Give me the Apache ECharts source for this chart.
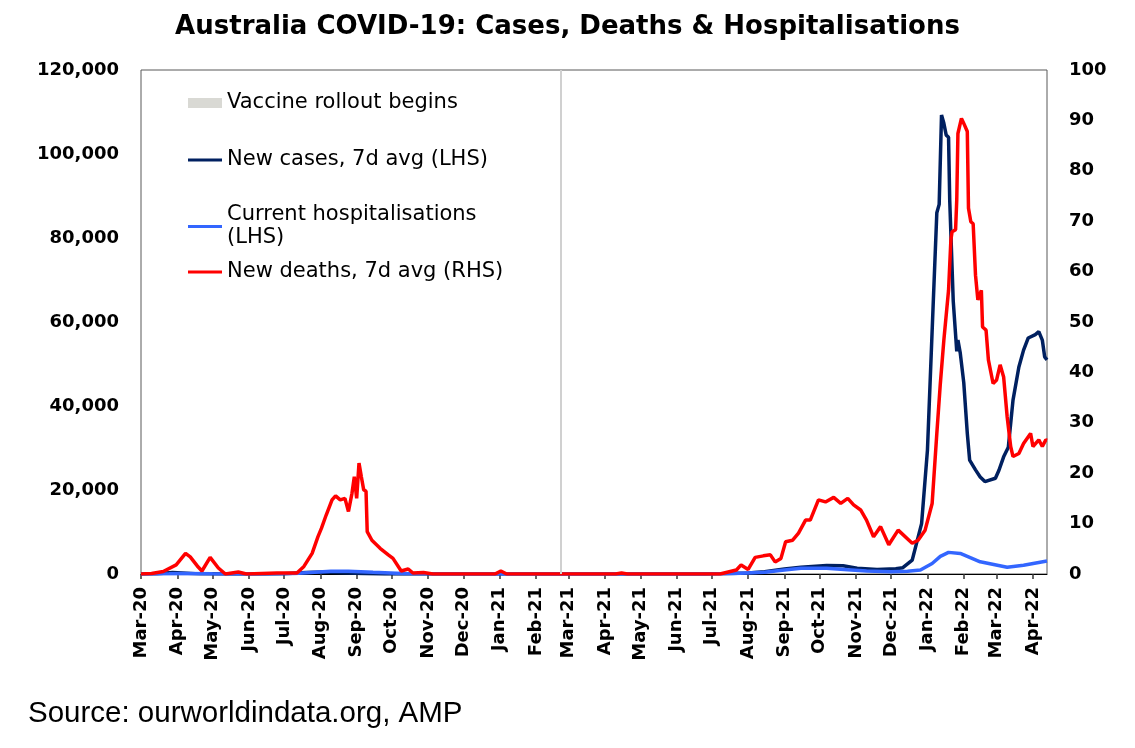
<!DOCTYPE html>
<html lang="en">
<head>
    <meta charset="UTF-8">
    <title>Australia COVID-19: Cases, Deaths & Hospitalisations</title>
    <script src="https://cdn.jsdelivr.net/npm/echarts/dist/echarts.min.js"></script>
    <style>
        html, body {
            margin: 0;
            padding: 0;
            background: #ffffff;
        }

        #chart {
            width: 1135px;
            height: 748px;
        }
    </style>
</head>
<body>

    <div id="chart"></div>

    <script>
        // New cases, 7 day average (left axis)
        var casesData = [
            ['2020-03-01', 5], ['2020-03-15', 60], ['2020-03-28', 370], ['2020-04-05', 250],
            ['2020-04-20', 30], ['2020-05-15', 15], ['2020-06-15', 12], ['2020-07-01', 60],
            ['2020-07-20', 350], ['2020-08-05', 480], ['2020-08-20', 280], ['2020-09-05', 100],
            ['2020-09-25', 20], ['2020-10-15', 12], ['2020-12-01', 10], ['2021-01-01', 20],
            ['2021-02-15', 8], ['2021-05-01', 10], ['2021-06-25', 20], ['2021-07-15', 90],
            ['2021-08-01', 250], ['2021-08-15', 550], ['2021-09-01', 1200], ['2021-09-15', 1600],
            ['2021-10-07', 2000], ['2021-10-21', 1950], ['2021-11-02', 1350], ['2021-11-19', 1100],
            ['2021-12-05', 1250], ['2021-12-11', 1500], ['2021-12-19', 3300], ['2021-12-27', 12000],
            ['2022-01-01', 29500], ['2022-01-06', 65000], ['2022-01-09', 86000], ['2022-01-11', 88000],
            ['2022-01-13', 109300], ['2022-01-15', 107300], ['2022-01-17', 104500], ['2022-01-19', 104000],
            ['2022-01-20', 89000], ['2022-01-23', 65000], ['2022-01-26', 53000], ['2022-01-27', 55700],
            ['2022-01-29', 52600], ['2022-02-01', 45500], ['2022-02-04', 33500], ['2022-02-06', 27100],
            ['2022-02-11', 24800], ['2022-02-15', 23100], ['2022-02-19', 22000], ['2022-02-28', 22800],
            ['2022-03-03', 24700], ['2022-03-07', 27900], ['2022-03-11', 30200], ['2022-03-15', 41400],
            ['2022-03-20', 49300], ['2022-03-24', 53300], ['2022-03-28', 56200], ['2022-04-03', 57000],
            ['2022-04-06', 57700], ['2022-04-09', 55700], ['2022-04-11', 51700], ['2022-04-13', 51000]
        ];

        // Current hospitalisations (left axis)
        var hospData = [
            ['2020-03-01', 0], ['2020-03-25', 60], ['2020-04-05', 120], ['2020-05-01', 50],
            ['2020-06-01', 10], ['2020-07-10', 100], ['2020-08-10', 650], ['2020-08-25', 660],
            ['2020-09-15', 400], ['2020-10-10', 100], ['2020-11-01', 30], ['2020-12-15', 10],
            ['2021-06-25', 20], ['2021-07-20', 100], ['2021-08-15', 400], ['2021-09-01', 950],
            ['2021-09-15', 1350], ['2021-10-07', 1350], ['2021-10-25', 1000], ['2021-11-10', 700],
            ['2021-12-01', 550], ['2021-12-15', 650], ['2021-12-26', 950], ['2022-01-05', 2500],
            ['2022-01-12', 4200], ['2022-01-19', 5150], ['2022-01-29', 4900], ['2022-02-15', 2900],
            ['2022-03-10', 1600], ['2022-03-24', 2100], ['2022-04-13', 3100]
        ];

        // New deaths, 7 day average (right axis)
        var deathsData = [
            ['2020-03-01', 0], ['2020-03-10', 0.1], ['2020-03-20', 0.5], ['2020-03-31', 1.8],
            ['2020-04-08', 4.1], ['2020-04-12', 3.4], ['2020-04-18', 1.6], ['2020-04-22', 0.6],
            ['2020-04-29', 3.3], ['2020-05-06', 1.2], ['2020-05-12', 0], ['2020-05-23', 0.4],
            ['2020-05-30', 0], ['2020-06-25', 0.2], ['2020-07-12', 0.2], ['2020-07-18', 1.5],
            ['2020-07-25', 4.1], ['2020-07-30', 7.4], ['2020-08-02', 9.1], ['2020-08-06', 11.7],
            ['2020-08-11', 14.7], ['2020-08-14', 15.5], ['2020-08-18', 14.7], ['2020-08-22', 15],
            ['2020-08-25', 12.4], ['2020-08-28', 16], ['2020-08-30', 19.3], ['2020-09-01', 15],
            ['2020-09-03', 22], ['2020-09-05', 19.3], ['2020-09-07', 16.7], ['2020-09-09', 16.4],
            ['2020-09-10', 8.4], ['2020-09-14', 6.7], ['2020-09-21', 5.1], ['2020-09-28', 3.8],
            ['2020-10-02', 3.1], ['2020-10-09', 0.6], ['2020-10-15', 1.0], ['2020-10-19', 0.2],
            ['2020-10-28', 0.3], ['2020-11-05', 0], ['2020-12-28', 0], ['2021-01-02', 0.6],
            ['2021-01-07', 0], ['2021-04-10', 0], ['2021-04-15', 0.2], ['2021-04-20', 0],
            ['2021-07-08', 0], ['2021-07-22', 0.8], ['2021-07-26', 1.8], ['2021-08-01', 0.9],
            ['2021-08-07', 3.3], ['2021-08-14', 3.6], ['2021-08-20', 3.8], ['2021-08-24', 2.4],
            ['2021-08-29', 3.1], ['2021-09-02', 6.4], ['2021-09-08', 6.7], ['2021-09-13', 8.1],
            ['2021-09-19', 10.7], ['2021-09-23', 10.7], ['2021-09-30', 14.7], ['2021-10-06', 14.3],
            ['2021-10-13', 15.2], ['2021-10-19', 14], ['2021-10-25', 15], ['2021-10-30', 13.7],
            ['2021-11-05', 12.7], ['2021-11-10', 10.7], ['2021-11-16', 7.4], ['2021-11-22', 9.4],
            ['2021-11-29', 5.8], ['2021-12-07', 8.7], ['2021-12-19', 6.1], ['2021-12-24', 6.7],
            ['2021-12-30', 8.7], ['2022-01-05', 14], ['2022-01-09', 27.9], ['2022-01-12', 37.8],
            ['2022-01-15', 46.4], ['2022-01-19', 56.3], ['2022-01-21', 66.3], ['2022-01-22', 67.9],
            ['2022-01-25', 68.3], ['2022-01-26', 74.2], ['2022-01-27', 87.4], ['2022-01-30', 90.4],
            ['2022-02-01', 89.4], ['2022-02-04', 87.8], ['2022-02-05', 72.6], ['2022-02-07', 69.9],
            ['2022-02-09', 69.5], ['2022-02-11', 59.3], ['2022-02-13', 54.4], ['2022-02-16', 56.3],
            ['2022-02-17', 49], ['2022-02-20', 48.4], ['2022-02-22', 42.5], ['2022-02-26', 37.8],
            ['2022-03-01', 38.5], ['2022-03-04', 41.5], ['2022-03-07', 39.1], ['2022-03-10', 31.2],
            ['2022-03-13', 25.3], ['2022-03-15', 23.3], ['2022-03-20', 23.9], ['2022-03-24', 25.9],
            ['2022-03-30', 27.9], ['2022-04-01', 25.3], ['2022-04-06', 26.6], ['2022-04-09', 25.3],
            ['2022-04-12', 26.6], ['2022-04-13', 26.5]
        ];

        var monthNames = ['Jan', 'Feb', 'Mar', 'Apr', 'May', 'Jun', 'Jul', 'Aug', 'Sep', 'Oct', 'Nov', 'Dec'];
        var vaccineDate = '2021-02-22';
        var axisStart = '2020-03-01';
        var axisEnd = '2022-04-13';
        var firstTick = '2020-03-01';
        var lastTick = '2022-04-01';

        function ts(s) {
            var p = s.split('-');
            return new Date(+p[0], +p[1] - 1, +p[2]).getTime();
        }

        // one tick + label on the first of every month
        var monthTicks = [];
        var d = new Date(ts(firstTick));
        while (d.getTime() <= ts(lastTick)) {
            monthTicks.push(d.getTime());
            d = new Date(d.getFullYear(), d.getMonth() + 1, 1);
        }

        function toTime(rows) {
            return rows.map(function (r) { return [ts(r[0]), r[1]]; });
        }

        function fmtMonth(v) {
            var dt = new Date(v);
            return monthNames[dt.getMonth()] + '-' + String(dt.getFullYear()).slice(2);
        }

        var chart = echarts.init(document.getElementById('chart'));

        var labelFont = {
            color: '#000',
            fontFamily: 'DejaVu Sans',
            fontWeight: 'bold',
            fontSize: 18
        };
        var legendText = {
            color: '#000',
            fontFamily: 'DejaVu Sans',
            fontSize: 21,
            lineHeight: 24
        };

        chart.setOption({
            animation: false,
            backgroundColor: '#ffffff',
            title: {
                text: 'Australia COVID-19: Cases, Deaths & Hospitalisations',
                left: 'center',
                top: 9,
                textStyle: {
                    color: '#000',
                    fontFamily: 'DejaVu Sans',
                    fontWeight: 'bold',
                    fontSize: 26
                }
            },
            legend: [
                {
                    data: [{ name: 'Vaccine rollout begins', icon: 'rect' }],
                    left: 188, top: 91, padding: 0,
                    itemWidth: 34, itemHeight: 10,
                    selectedMode: false,
                    textStyle: legendText
                },
                {
                    data: [{ name: 'New cases, 7d avg (LHS)', icon: 'rect' }],
                    left: 188, top: 148, padding: 0,
                    itemWidth: 34, itemHeight: 3,
                    selectedMode: false,
                    textStyle: legendText
                },
                {
                    data: [{ name: 'Current hospitalisations (LHS)', icon: 'rect' }],
                    left: 188, top: 192, padding: 0,
                    itemWidth: 34, itemHeight: 3,
                    selectedMode: false,
                    formatter: function () { return 'Current hospitalisations\n(LHS)'; },
                    textStyle: {
                        color: '#000',
                        fontFamily: 'DejaVu Sans',
                        fontSize: 21,
                        lineHeight: 23,
                        padding: [23, 0, 0, 0]
                    }
                },
                {
                    data: [{ name: 'New deaths, 7d avg (RHS)', icon: 'rect' }],
                    left: 188, top: 260, padding: 0,
                    itemWidth: 34, itemHeight: 3,
                    selectedMode: false,
                    textStyle: legendText
                }
            ],
            graphic: [
                {
                    type: 'text',
                    left: 28,
                    top: 699,
                    style: {
                        text: 'Source: ourworldindata.org, AMP',
                        fill: '#000',
                        fontFamily: 'Liberation Sans',
                        fontSize: 29.5
                    }
                }
            ],
            grid: {
                left: 141,
                right: 88,
                top: 70,
                bottom: 174,
                show: true,
                borderColor: '#595959',
                borderWidth: 1,
                outerBoundsMode: 'none'
            },
            xAxis: {
                type: 'value',
                min: ts(axisStart),
                max: ts(axisEnd),
                axisLine: { show: true, lineStyle: { color: '#000', width: 1 } },
                axisTick: {
                    show: true,
                    length: 5,
                    customValues: monthTicks,
                    lineStyle: { color: '#333', width: 1.5 }
                },
                axisLabel: Object.assign({
                    customValues: monthTicks,
                    rotate: 90,
                    margin: 13,
                    hideOverlap: false,
                    formatter: fmtMonth
                }, labelFont),
                splitLine: { show: false }
            },
            yAxis: [
                {
                    type: 'value',
                    min: 0,
                    max: 120000,
                    interval: 20000,
                    axisLine: { show: false },
                    axisTick: { show: false },
                    splitLine: { show: false },
                    axisLabel: Object.assign({
                        margin: 22,
                        formatter: function (v) { return v.toLocaleString('en-US'); }
                    }, labelFont)
                },
                {
                    type: 'value',
                    min: 0,
                    max: 100,
                    interval: 10,
                    position: 'right',
                    axisLine: { show: false },
                    axisTick: { show: false },
                    splitLine: { show: false },
                    axisLabel: Object.assign({ margin: 22 }, labelFont)
                }
            ],
            series: [
                {
                    name: 'Vaccine rollout begins',
                    type: 'line',
                    data: [],
                    color: '#D9D9D4',
                    markLine: {
                        silent: true,
                        symbol: 'none',
                        label: { show: false },
                        lineStyle: { color: '#D0D0D0', width: 2, type: 'solid' },
                        data: [{ xAxis: ts(vaccineDate) }]
                    }
                },
                {
                    name: 'New cases, 7d avg (LHS)',
                    type: 'line',
                    yAxisIndex: 0,
                    symbol: 'none',
                    color: '#002060',
                    lineStyle: { color: '#002060', width: 3.5 },
                    data: toTime(casesData)
                },
                {
                    name: 'Current hospitalisations (LHS)',
                    type: 'line',
                    yAxisIndex: 0,
                    symbol: 'none',
                    color: '#3366FF',
                    lineStyle: { color: '#3366FF', width: 3.5 },
                    data: toTime(hospData)
                },
                {
                    name: 'New deaths, 7d avg (RHS)',
                    type: 'line',
                    yAxisIndex: 1,
                    symbol: 'none',
                    color: '#FF0000',
                    lineStyle: { color: '#FF0000', width: 3.5 },
                    data: toTime(deathsData)
                }
            ]
        });
    </script>

</body>
</html>
